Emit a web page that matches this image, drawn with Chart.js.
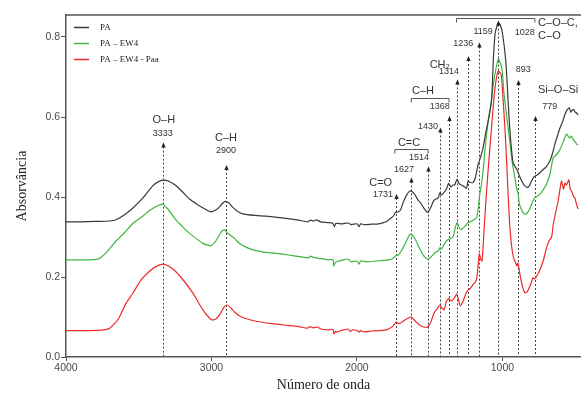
<!DOCTYPE html>
<html><head><meta charset="utf-8">
<script src="https://cdn.jsdelivr.net/npm/chart.js@4.4.0/dist/chart.umd.min.js"></script>
<style>html,body{margin:0;padding:0;background:#fff;}</style>
</head><body>
<canvas id="c" width="581" height="396"></canvas>
<script>
// ---- data ----
const seriesNames = ['PA', 'PA – EW4', 'PA – EW4 - Paa'];
const seriesColors = ['#3a3a3a', '#3fb53f', '#ec2a2a'];

const wnPA = [4000,3900,3800,3700,3656,3600,3542,3473,3404,3360,3323,3280,3243,3200,3151,3100,3060,3020,3002,2960,2930,2905,2880,2853,2820,2785,2700,2624,2500,2400,2340,2320,2300,2280,2250,2200,2165,2155,2145,2100,2060,2040,2000,1985,1975,1950,1900,1850,1800,1775,1750,1734,1720,1700,1683,1660,1640,1626,1600,1580,1562,1540,1520,1511,1495,1470,1442,1430,1419,1400,1385,1370,1355,1340,1328,1312,1295,1271,1247,1236,1225,1202,1185,1168,1150,1135,1115,1098,1075,1063,1050,1035,1028,1015,1000,977,961,950,938,926,900,880,860,846,830,815,800,779,760,731,700,674,655,640,620,604,585,570,555,541,530,525,511,500,490,480];
const absPA = [0.338,0.338,0.339,0.340,0.343,0.355,0.372,0.397,0.428,0.439,0.442,0.437,0.428,0.413,0.395,0.382,0.373,0.365,0.363,0.370,0.382,0.389,0.385,0.374,0.364,0.358,0.354,0.352,0.347,0.342,0.338,0.342,0.340,0.343,0.338,0.336,0.334,0.326,0.334,0.333,0.335,0.331,0.333,0.326,0.333,0.331,0.332,0.333,0.338,0.345,0.352,0.362,0.362,0.368,0.386,0.404,0.414,0.415,0.405,0.392,0.385,0.372,0.363,0.362,0.372,0.392,0.398,0.410,0.405,0.412,0.420,0.434,0.425,0.430,0.430,0.444,0.432,0.428,0.422,0.440,0.437,0.436,0.450,0.480,0.500,0.520,0.560,0.590,0.640,0.740,0.810,0.830,0.835,0.830,0.810,0.740,0.640,0.573,0.520,0.485,0.468,0.450,0.435,0.428,0.424,0.428,0.440,0.452,0.455,0.465,0.475,0.490,0.510,0.532,0.555,0.573,0.590,0.607,0.618,0.623,0.612,0.615,0.619,0.612,0.610,0.605];

const wnEW = [4000,3850,3790,3760,3720,3656,3600,3542,3473,3427,3370,3333,3300,3243,3200,3151,3100,3060,3020,3002,2970,2933,2910,2890,2853,2830,2807,2760,2716,2650,2555,2470,2394,2330,2320,2300,2250,2200,2165,2160,2150,2140,2100,2060,2040,2000,1985,1975,1930,1870,1800,1760,1734,1715,1690,1660,1640,1626,1600,1570,1540,1511,1490,1460,1442,1430,1419,1400,1380,1362,1340,1325,1312,1295,1282,1260,1236,1210,1190,1178,1165,1156,1145,1133,1121,1098,1080,1063,1045,1028,1015,1003,990,970,950,930,915,903,893,885,875,860,846,830,810,790,777,760,742,720,697,675,651,630,604,585,560,545,537,525,514,500,490,480];
const absEW = [0.243,0.243,0.244,0.249,0.262,0.290,0.310,0.333,0.352,0.366,0.378,0.382,0.370,0.342,0.326,0.309,0.295,0.284,0.279,0.278,0.290,0.313,0.318,0.310,0.300,0.292,0.284,0.274,0.268,0.263,0.259,0.255,0.251,0.248,0.252,0.249,0.246,0.243,0.243,0.228,0.235,0.238,0.242,0.245,0.238,0.240,0.232,0.240,0.238,0.240,0.242,0.245,0.253,0.255,0.268,0.290,0.305,0.307,0.295,0.272,0.252,0.244,0.250,0.262,0.265,0.273,0.270,0.282,0.292,0.295,0.300,0.322,0.336,0.322,0.319,0.326,0.336,0.340,0.345,0.348,0.375,0.407,0.430,0.465,0.515,0.590,0.630,0.680,0.720,0.745,0.735,0.720,0.660,0.600,0.540,0.480,0.450,0.423,0.410,0.385,0.373,0.362,0.357,0.360,0.372,0.390,0.398,0.402,0.407,0.418,0.432,0.455,0.498,0.505,0.519,0.535,0.557,0.550,0.548,0.552,0.544,0.538,0.532,0.530];

const wnPAA = [4000,3850,3760,3700,3640,3588,3540,3485,3430,3383,3333,3300,3255,3200,3126,3080,3049,3020,2998,2970,2940,2915,2895,2870,2840,2793,2700,2600,2500,2400,2340,2320,2300,2270,2250,2200,2165,2158,2148,2140,2100,2060,2045,2030,2000,1985,1975,1950,1900,1850,1800,1760,1740,1731,1715,1700,1680,1650,1627,1600,1570,1540,1514,1495,1470,1450,1430,1415,1400,1385,1368,1350,1330,1314,1300,1290,1270,1250,1236,1220,1200,1185,1175,1165,1159,1150,1140,1121,1100,1075,1055,1040,1028,1015,1006,995,983,970,961,950,938,925,915,900,893,880,865,846,830,810,790,779,760,740,720,697,680,662,651,635,617,600,593,580,570,560,543,535,525,510,502,490,480];
const absPAA = [0.066,0.066,0.067,0.072,0.095,0.134,0.160,0.192,0.213,0.226,0.232,0.228,0.217,0.195,0.159,0.130,0.113,0.100,0.093,0.095,0.108,0.124,0.130,0.124,0.112,0.100,0.090,0.084,0.080,0.076,0.072,0.076,0.073,0.075,0.070,0.068,0.069,0.058,0.064,0.062,0.067,0.070,0.064,0.068,0.066,0.062,0.066,0.063,0.065,0.066,0.068,0.075,0.083,0.088,0.084,0.085,0.090,0.097,0.100,0.090,0.080,0.075,0.075,0.085,0.110,0.120,0.130,0.122,0.118,0.140,0.146,0.140,0.148,0.157,0.140,0.128,0.140,0.160,0.167,0.172,0.182,0.188,0.200,0.240,0.258,0.245,0.240,0.350,0.460,0.573,0.660,0.700,0.715,0.710,0.700,0.640,0.573,0.480,0.407,0.330,0.280,0.250,0.240,0.228,0.235,0.207,0.180,0.161,0.163,0.178,0.198,0.195,0.205,0.220,0.240,0.273,0.290,0.300,0.330,0.360,0.390,0.430,0.440,0.420,0.435,0.430,0.443,0.420,0.415,0.400,0.398,0.380,0.370];

const xTicks = [4000, 3000, 2000, 1000];
const yTicks = [0, 0.2, 0.4, 0.6, 0.8];

// peak markers (wavenumber, absorbance of arrow tip)
const peakWn  = [3333, 2900, 1731, 1627, 1514, 1430, 1368, 1314, 1236, 1159, 1028, 893, 779];
const peakTip = [0.536, 0.480, 0.4075, 0.449, 0.476, 0.574, 0.6025, 0.694, 0.7525, 0.786, 0.841, 0.6925, 0.6025];

// annotation texts
const annText = ['O–H','3333','C–H','2900','C=O','1731','1627','C=C','1514','1430','C–H','1368','CH₂','1314','1236','1159','1028','C–O–C,','C–O','893','Si–O–Si','779'];
const annWn   = [3328,3335,2900,2900,1837,1821,1677,1642,1573,1511,1546,1431,1431,1367,1270,1133,846,755,755,857,756,674];
const annAbs  = [0.5925,0.559,0.547,0.515,0.434,0.405,0.4675,0.536,0.499,0.576,0.666,0.626,0.73,0.713,0.7825,0.813,0.812,0.836,0.8025,0.7175,0.6675,0.626];
const annBig  = [1,0,1,0,1,0,0,1,0,0,1,0,1,0,0,0,0,1,1,0,1,0];
const annLeft = [0,0,0,0,0,0,0,0,0,0,0,0,0,0,0,0,0,1,1,0,1,0];

// group brackets
const brFrom = [1740, 1626, 1316];
const brTo   = [1511, 1367, 777];
const brAbs  = [0.519, 0.648, 0.847];

// ---- plugin: frame, markers, labels, legend ----
const annotations = {
  id: 'annotations',
  beforeDatasetsDraw(chart) {
    const {ctx, chartArea: a, scales: {x, y}} = chart;
    ctx.save();
    ctx.strokeStyle = '#555'; ctx.lineWidth = 1.5;
    ctx.beginPath(); ctx.moveTo(a.left, a.top); ctx.lineTo(a.right, a.top); ctx.stroke();
    ctx.setLineDash([2, 2]); ctx.lineWidth = 1; ctx.strokeStyle = '#444';
    peakWn.forEach((w, i) => {
      const px = Math.round(x.getPixelForValue(w)) + 0.5;
      ctx.beginPath();
      ctx.moveTo(px, y.getPixelForValue(peakTip[i]) + 4);
      ctx.lineTo(px, a.bottom);
      ctx.stroke();
    });
    ctx.restore();
  },
  afterDatasetsDraw(chart) {
    const {ctx, chartArea: a, scales: {x, y}} = chart;
    ctx.save();
    // arrow heads
    ctx.fillStyle = '#222';
    peakWn.forEach((w, i) => {
      const px = Math.round(x.getPixelForValue(w)) + 0.5;
      const py = y.getPixelForValue(peakTip[i]);
      ctx.beginPath();
      ctx.moveTo(px, py); ctx.lineTo(px - 2.2, py + 5); ctx.lineTo(px + 2.2, py + 5);
      ctx.closePath(); ctx.fill();
    });
    // brackets
    ctx.strokeStyle = '#555'; ctx.lineWidth = 1;
    brFrom.forEach((f, i) => {
      const x1 = x.getPixelForValue(f), x2 = x.getPixelForValue(brTo[i]);
      const py = Math.round(y.getPixelForValue(brAbs[i])) + 0.5;
      ctx.beginPath();
      ctx.moveTo(x1, py + 4); ctx.lineTo(x1, py); ctx.lineTo(x2, py); ctx.lineTo(x2, py + 4);
      ctx.stroke();
    });
    // texts
    ctx.fillStyle = '#333';
    ctx.textBaseline = 'middle';
    annText.forEach((t, i) => {
      ctx.font = annBig[i] ? '11px "Liberation Sans", Arial, sans-serif' : '9px "Liberation Sans", Arial, sans-serif';
      ctx.textAlign = annLeft[i] ? 'left' : 'center';
      ctx.fillText(t, x.getPixelForValue(annWn[i]), y.getPixelForValue(annAbs[i]));
    });
    // legend
    ctx.font = '9px "Liberation Serif", "Times New Roman", serif';
    ctx.textAlign = 'left';
    chart.data.datasets.forEach((ds, i) => {
      const ly = a.top + 12.5 + i * 16;
      ctx.strokeStyle = ds.borderColor; ctx.lineWidth = 1.5;
      ctx.beginPath(); ctx.moveTo(a.left + 8, ly); ctx.lineTo(a.left + 23, ly); ctx.stroke();
      ctx.fillStyle = '#222';
      ctx.fillText(ds.label, a.left + 34, ly);
    });
    ctx.restore();
  }
};

const mk = (wn, ab) => wn.map((w, i) => ({x: w, y: ab[i]}));
const datasets = [
  {label: seriesNames[0], data: mk(wnPA, absPA), borderColor: seriesColors[0]},
  {label: seriesNames[1], data: mk(wnEW, absEW), borderColor: seriesColors[1]},
  {label: seriesNames[2], data: mk(wnPAA, absPAA), borderColor: seriesColors[2]}
].map(d => Object.assign(d, {borderWidth: 1.2, pointRadius: 0, tension: 0.2, fill: false}));

const tickFont = {family: '"Liberation Sans", Arial, sans-serif', size: 10.5};
new Chart(document.getElementById('c'), {
  type: 'line',
  data: {datasets},
  options: {
    responsive: false, animation: false, devicePixelRatio: 1,
    layout: {padding: {top: 15, right: 0, left: 0, bottom: 0}},
    plugins: {legend: {display: false}, tooltip: {enabled: false}},
    scales: {
      x: {
        type: 'linear', reverse: true, min: 460, max: 4000,
        afterBuildTicks: s => { s.ticks = xTicks.map(v => ({value: v})); },
        afterFit: s => { s.height = 39; },
        ticks: {font: tickFont, color: '#4a4a4a', padding: 1, maxRotation: 0, autoSkip: false, callback: v => String(v)},
        grid: {drawOnChartArea: false, tickLength: 4, color: '#555'},
        border: {color: '#555', width: 1.5},
        title: {display: true, text: 'Número de onda', color: '#222',
          font: {family: '"Liberation Serif", "Times New Roman", serif', size: 14}, padding: {top: 0, bottom: 2}}
      },
      y: {
        min: 0, max: 0.855,
        afterBuildTicks: s => { s.ticks = yTicks.map(v => ({value: v})); },
        afterFit: s => { s.width = 66; },
        ticks: {font: tickFont, color: '#4a4a4a', padding: 1, callback: v => v.toFixed(1)},
        grid: {drawOnChartArea: false, tickLength: 5, color: '#555'},
        border: {color: '#555', width: 1.5},
        title: {display: true, text: 'Absorvância', color: '#222',
          font: {family: '"Liberation Serif", "Times New Roman", serif', size: 14}, padding: {top: 14, bottom: 0}}
      }
    }
  },
  plugins: [annotations]
});
</script>
</body></html>
